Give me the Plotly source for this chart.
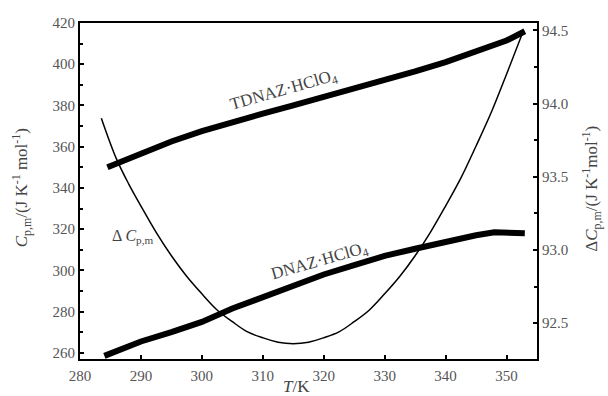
import plotly.graph_objects as go

# TDNAZ·HClO4 heat capacity (left axis)
t_tdnaz = [284.5, 287, 290, 295, 300, 305, 310, 315, 320, 325, 330, 335, 340, 345, 350, 353]
cp_tdnaz = [350, 353, 356.5, 362.5, 367.5, 372, 376, 380, 384, 388, 392, 396.5, 401, 406, 411.5, 416]

# DNAZ·HClO4 heat capacity (left axis)
t_dnaz = [284, 286, 290, 295, 300, 305, 310, 315, 320, 325, 330, 335, 340, 345, 348, 350, 353]
cp_dnaz = [258.5, 261, 265.5, 270, 275, 281.5, 287, 292.5, 298, 302.5, 307, 310.5, 314, 317, 318.5, 318.5, 318]

# Difference curve (right axis)
t_diff = [283.5, 286, 288, 290, 292.5, 295, 297.5, 300, 302.5, 305, 307.5, 310, 312.5, 315,
          317.5, 320, 322.5, 325, 327.5, 330, 332.5, 335, 337.5, 340, 342.5, 345, 347.5, 350, 352.8]
d_cp = [93.90, 93.62, 93.45, 93.30, 93.12, 92.96, 92.82, 92.70, 92.59, 92.51, 92.44, 92.40, 92.37, 92.36,
        92.37, 92.40, 92.44, 92.51, 92.59, 92.70, 92.82, 92.96, 93.12, 93.30, 93.49, 93.71, 93.94, 94.20, 94.50]

x_ticks = [280, 290, 300, 310, 320, 330, 340, 350]
y_ticks = [260, 280, 300, 320, 340, 360, 380, 400, 420]
y2_ticks = [92.5, 93.0, 93.5, 94.0, 94.5]

FONT = "Liberation Serif"
TXT = "#444444"

fig = go.Figure()
fig.add_trace(go.Scatter(x=t_tdnaz, y=cp_tdnaz, mode="lines",
                         line=dict(color="black", width=6), showlegend=False))
fig.add_trace(go.Scatter(x=t_dnaz, y=cp_dnaz, mode="lines",
                         line=dict(color="black", width=6), showlegend=False))
fig.add_trace(go.Scatter(x=t_diff, y=d_cp, mode="lines", yaxis="y2",
                         line=dict(color="black", width=1.5, shape="spline"), showlegend=False))

L, R, T, B = 80, 537.5, 22.5, 359.0
W, H = 608, 396


def px(x):
    return (x - L) / (R - L)


def py(y):
    return (B - y) / (B - T)


axis_common = dict(showline=True, linecolor="black", linewidth=2, ticks="inside",
                   tickcolor="black", ticklen=4, tickwidth=1.5, showgrid=False, zeroline=False,
                   tickfont=dict(family=FONT, size=15, color="#555555"))

fig.update_layout(
    width=W, height=H,
    margin=dict(l=L, r=W - R, t=T, b=H - B),
    paper_bgcolor="white", plot_bgcolor="white",
    xaxis=dict(range=[280, 355], tickvals=x_ticks, mirror=True, ticklabelstandoff=2,
               **axis_common),
    yaxis=dict(range=[257, 420], tickvals=y_ticks,
               minor=dict(ticks="inside", ticklen=3, tickcolor="black", dtick=10),
               **axis_common),
    yaxis2=dict(range=[92.255, 94.55], tickvals=y2_ticks, overlaying="y", side="right",
                tickformat=".1f",
                minor=dict(ticks="inside", ticklen=3, tickcolor="black", dtick=0.25),
                **axis_common),
)

annotations = [
    dict(x=px(284), y=py(91), text="TDNAZ·HClO<sub>4</sub>", textangle=-16, size=17),
    dict(x=px(320), y=py(262), text="DNAZ·HClO<sub>4</sub>", textangle=-16, size=17),
    dict(x=px(133), y=py(236), text="Δ <i>C</i><sub>p,m</sub>", textangle=0, size=16),
    dict(x=px(297), y=py(387), text="<i>T</i>/K", textangle=0, size=17),
    dict(x=px(21), y=py(188), text="<i>C</i><sub>p,m</sub>/(J K<sup>-1</sup> mol<sup>-1</sup>)", textangle=-90, size=17),
    dict(x=px(592), y=py(188), text="Δ<i>C</i><sub>p,m</sub>/(J K<sup>-1</sup>mol<sup>-1</sup>)", textangle=-90, size=17),
]
for a in annotations:
    size = a.pop("size")
    fig.add_annotation(xref="paper", yref="paper", showarrow=False,
                       font=dict(family=FONT, size=size, color=TXT),
                       xanchor="center", yanchor="middle", **a)

fig.write_html("out.html")
